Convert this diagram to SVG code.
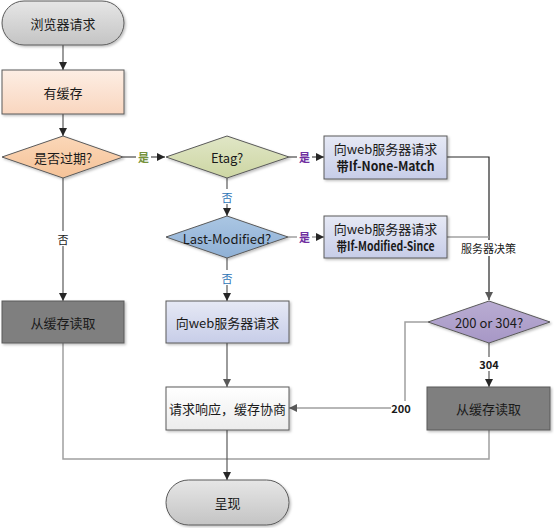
<svg xmlns="http://www.w3.org/2000/svg" width="554" height="528" viewBox="0 0 554 528">
<defs>
<linearGradient id="gStart" x1="0" y1="0" x2="0" y2="1"><stop offset="0" stop-color="#e6e6e6"/><stop offset="1" stop-color="#c4c4c4"/></linearGradient>
<linearGradient id="gPeach" x1="0" y1="0" x2="0" y2="1"><stop offset="0" stop-color="#fdeee4"/><stop offset="1" stop-color="#f9d6bf"/></linearGradient>
<linearGradient id="gOrange" x1="0" y1="0" x2="0" y2="1"><stop offset="0" stop-color="#fbd7b8"/><stop offset="1" stop-color="#f5c298"/></linearGradient>
<linearGradient id="gOlive" x1="0" y1="0" x2="0" y2="1"><stop offset="0" stop-color="#e0e6c6"/><stop offset="1" stop-color="#cdd6a3"/></linearGradient>
<linearGradient id="gBlueD" x1="0" y1="0" x2="0" y2="1"><stop offset="0" stop-color="#aac6e3"/><stop offset="1" stop-color="#8fb0d5"/></linearGradient>
<linearGradient id="gLav" x1="0" y1="0" x2="0" y2="1"><stop offset="0" stop-color="#e6e9f5"/><stop offset="1" stop-color="#c7cde8"/></linearGradient>
<linearGradient id="gPurple" x1="0" y1="0" x2="0" y2="1"><stop offset="0" stop-color="#b9acd2"/><stop offset="1" stop-color="#a797c6"/></linearGradient>
<linearGradient id="gWhite" x1="0" y1="0" x2="0" y2="1"><stop offset="0" stop-color="#ffffff"/><stop offset="1" stop-color="#ececec"/></linearGradient>
<filter id="sh" x="-10%" y="-10%" width="130%" height="140%"><feDropShadow dx="1.5" dy="1.5" stdDeviation="1" flood-color="#000" flood-opacity="0.25"/></filter>
<marker id="ar" viewBox="0 0 10 10" refX="10" refY="5" markerWidth="8" markerHeight="8" markerUnits="userSpaceOnUse" orient="auto"><path d="M0,0 L10,5 L0,10 z" fill="#262626"/></marker>
<marker id="arg" viewBox="0 0 10 10" refX="10" refY="5" markerWidth="8" markerHeight="8" markerUnits="userSpaceOnUse" orient="auto"><path d="M0,0 L10,5 L0,10 z" fill="#595959"/></marker>
</defs>
<style>
.n{stroke:#5a5a5a;stroke-width:1;filter:url(#sh)}
.t{font-family:"Noto Sans CJK SC","Noto Sans",sans-serif;font-size:13px;fill:#1a1a1a;text-anchor:middle;dominant-baseline:central}
.b{font-weight:bold}
.c{fill:none;stroke:#595959;stroke-width:1.2}
.cl{fill:none;stroke:#a0a0a0;stroke-width:1.5}
.cd{fill:none;stroke:#262626;stroke-width:1.2}
.lb{fill:#fff}
.l{font-family:"Noto Sans CJK SC","Noto Sans",sans-serif;font-size:11px;text-anchor:middle;dominant-baseline:central}
</style>
<g id="connectors">
<path class="c" d="M63,45 V70" marker-end="url(#ar)"/>
<path class="c" d="M63,114 V136" marker-end="url(#ar)"/>
<path class="cd" d="M123,157 H165" marker-end="url(#ar)"/>
<path class="c" d="M63,178 V301" marker-end="url(#ar)"/>
<path class="cd" d="M289,157 H324" marker-end="url(#ar)"/>
<path class="c" d="M227,178 V216" marker-end="url(#ar)"/>
<path class="cl" d="M288,237 H324" marker-end="url(#ar)"/>
<path class="c" d="M227,258 V301" marker-end="url(#ar)"/>
<path class="cd" d="M447,157 H489 V300" marker-end="url(#arg)"/>
<path class="cl" d="M447,237 H489"/>
<path class="c" d="M489,343 V387" marker-end="url(#ar)"/>
<path class="cl" d="M428,322 H405 V408 H289" marker-end="url(#arg)"/>
<path class="c" d="M227,343 V387" marker-end="url(#arg)"/>
<path class="cl" d="M63,343 V459 H489 V430"/>
<path class="c" d="M227,430 V480" marker-end="url(#ar)"/>
<rect class="lb" x="136" y="149" width="15" height="15"/>
<text class="l b" x="143.5" y="156.5" fill="#76923c" font-size="12">是</text>
<rect class="lb" x="297" y="149" width="15" height="15"/>
<text class="l b" x="304.5" y="156.5" fill="#7030a0" font-size="12">是</text>
<rect class="lb" x="297" y="229" width="15" height="15"/>
<text class="l b" x="304.5" y="236.5" fill="#7030a0" font-size="12">是</text>
<rect class="lb" x="220" y="189" width="14" height="15"/>
<text class="l" x="227" y="196.5" fill="#2e75b6">否</text>
<rect class="lb" x="220" y="270" width="14" height="15"/>
<text class="l" x="227" y="277.5" fill="#2e75b6">否</text>
<rect class="lb" x="56" y="231" width="14" height="15"/>
<text class="l" x="63" y="238.5" fill="#1a1a1a">否</text>
<rect class="lb" x="458" y="240" width="61" height="16"/>
<text class="l" x="488.5" y="248" fill="#1a1a1a" font-size="12">服务器决策</text>
<rect class="lb" x="479" y="357" width="20" height="14"/>
<text class="l b" x="489" y="364" fill="#1a1a1a">304</text>
<rect class="lb" x="391" y="401" width="20" height="14"/>
<text class="l b" x="401" y="408" fill="#1a1a1a">200</text>
</g>
<g id="start"><rect class="n" x="2" y="1" width="122" height="44" rx="22" fill="url(#gStart)"/><text class="t" x="63" y="23">浏览器请求</text></g>
<g id="hasCache"><rect class="n" x="2" y="70" width="122" height="44" fill="url(#gPeach)"/><text class="t" x="63" y="92">有缓存</text></g>
<g id="expired"><polygon class="n" points="63,136 123,157 63,178 2,157" fill="url(#gOrange)"/><text class="t" x="63" y="157" font-size="15">是否过期?</text></g>
<g id="etag"><polygon class="n" points="227,136 289,157 227,178 166,157" fill="url(#gOlive)"/><text class="t" x="227" y="157" font-size="15">Etag?</text></g>
<g id="inm"><rect class="n" x="324" y="136" width="123" height="43" fill="url(#gLav)"/><text class="t" x="385.5" y="148" font-size="12">向web服务器请求</text><text class="t b" x="385.5" y="165.5" font-size="12" textLength="98" lengthAdjust="spacingAndGlyphs">带If-None-Match</text></g>
<g id="lastmod"><polygon class="n" points="227,216 288,237 227,258 166,237" fill="url(#gBlueD)"/><text class="t" x="227" y="238" font-size="13">Last-Modified?</text></g>
<g id="ims"><rect class="n" x="324" y="216" width="123" height="42" fill="url(#gLav)"/><text class="t" x="385.5" y="228" font-size="12">向web服务器请求</text><text class="t b" x="385.5" y="245.5" font-size="11" textLength="98" lengthAdjust="spacingAndGlyphs">带If-Modified-Since</text></g>
<g id="decision"><polygon class="n" points="489,301 550,322 489,343 428,322" fill="url(#gPurple)"/><text class="t" x="489" y="322" font-size="14">200 or 304?</text></g>
<g id="readCacheL"><rect class="n" x="2" y="301" width="122" height="42" fill="#7f7f7f"/><text class="t" x="63" y="322">从缓存读取</text></g>
<g id="webReq"><rect class="n" x="166" y="301" width="123" height="42" fill="url(#gLav)"/><text class="t" x="227.5" y="322">向web服务器请求</text></g>
<g id="response"><rect class="n" x="166" y="387" width="123" height="43" fill="url(#gWhite)"/><text class="t" x="227.5" y="408.5">请求响应，缓存协商</text></g>
<g id="readCacheR"><rect class="n" x="427" y="387" width="123" height="43" fill="#7f7f7f"/><text class="t" x="488.5" y="408.5">从缓存读取</text></g>
<g id="render"><rect class="n" x="166" y="480" width="123" height="45" rx="22.5" fill="url(#gStart)"/><text class="t" x="227.5" y="502.5">呈现</text></g>
</svg>
